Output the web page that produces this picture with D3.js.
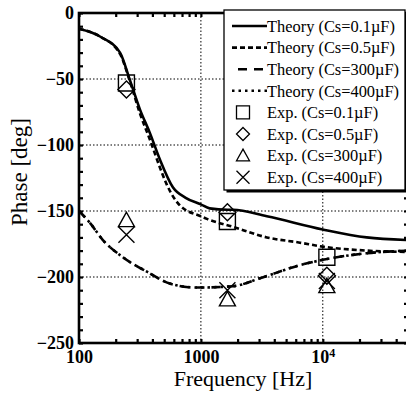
<!DOCTYPE html>
<html lang="en">
<head>
<meta charset="UTF-8">
<title>Phase vs frequency</title>
<script src="https://d3js.org/d3.v7.min.js"></script>
<style>
  body { margin: 0; background: #fff; }
  text { font-family: "Liberation Serif", "Times New Roman", serif; fill: #000; }
</style>
</head>
<body>
<div id="chart"></div>
<script>
// theory curves, frequency [Hz] and phase [deg]
var freq01  = [100, 150, 217, 262, 316, 382, 461, 589, 750, 1000, 1180, 1650, 1830, 3475, 10000, 22900, 50000];
var phase01 = [-12, -18, -30, -51, -73, -91, -111, -132, -140, -145, -148, -149, -149, -154, -164, -170, -172];

var freq05  = [100, 150, 217, 262, 316, 382, 461, 525, 676, 1000, 1120, 1830, 3475, 6500, 10000, 22900, 50000];
var phase05 = [-12, -18, -31, -52, -76, -96, -117, -130, -146, -154, -156, -162, -170, -174, -177, -180, -181];

var freq300  = [100, 123, 157, 229, 361, 557, 926, 1830, 3050, 6500, 10000, 22900, 50000];
var phase300 = [-150, -159, -172, -185, -196, -205, -208, -207, -201, -191, -187, -182, -180];

var freq400  = [100, 123, 157, 229, 361, 557, 926, 1830, 3050, 6500, 10000, 22900, 50000];
var phase400 = [-150, -159, -172, -185, -196, -205, -208, -207, -201, -191, -187, -182, -180];

// measured points
var expFreq = [245, 1650, 10800];
var exp01  = [-53, -158, -185];
var exp05  = [-58, -151, -199];
var exp300 = [-157, -217, -207];
var exp400 = [-168, -210, -203];

var xTicks = [100, 1000, 10000];
var yTicks = [0, -50, -100, -150, -200, -250];
var legendLabels = ["Theory (Cs=0.1\u00b5F)", "Theory (Cs=0.5\u00b5F)", "Theory (Cs=300\u00b5F)", "Theory (Cs=400\u00b5F)",
                    "Exp. (Cs=0.1\u00b5F)", "Exp. (Cs=0.5\u00b5F)", "Exp. (Cs=300\u00b5F)", "Exp. (Cs=400\u00b5F)"];

var W = 406, H = 394;
var pLeft = 79, pRight = 408, pTop = 13, pBottom = 343;

var svg = d3.select("#chart").append("svg")
  .attr("width", W).attr("height", H);

var x = d3.scaleLog().domain([100, 50000]).range([pLeft, pRight]);
var y = d3.scaleLinear().domain([-250, 0]).range([pBottom, pTop]);

// grid
var grid = svg.append("g").attr("stroke", "#000").attr("stroke-width", 1).attr("stroke-dasharray", "1.5,2");
grid.selectAll(".gy").data([-50, -100, -150, -200]).enter().append("line")
  .attr("x1", pLeft).attr("x2", pRight).attr("y1", d => y(d)).attr("y2", d => y(d));
grid.selectAll(".gx").data([1000, 10000]).enter().append("line")
  .attr("y1", pTop).attr("y2", pBottom).attr("x1", d => x(d)).attr("x2", d => x(d));

// minor ticks, all inward
var minorX = [];
[100, 1000, 10000].forEach(function(b) { for (var i = 2; i <= 9; i++) if (b * i <= 50000) minorX.push(b * i); });
var minorY = d3.range(-250, 1, 10);

function tickStyle(g) {
  g.select(".domain").remove();
  g.selectAll(".tick line").attr("stroke", "#000").attr("stroke-width", 2.2);
}
svg.append("g").attr("transform", "translate(0," + pBottom + ")")
  .call(d3.axisBottom(x).tickValues(minorX.concat(xTicks)).tickSize(-4).tickFormat("")).call(tickStyle);
svg.append("g").attr("transform", "translate(0," + pTop + ")")
  .call(d3.axisTop(x).tickValues(minorX.concat(xTicks)).tickSize(-4).tickFormat("")).call(tickStyle);
svg.append("g").attr("transform", "translate(" + pLeft + ",0)")
  .call(d3.axisLeft(y).tickValues(minorY).tickSize(-4).tickFormat("")).call(tickStyle);
svg.append("g").attr("transform", "translate(" + pRight + ",0)")
  .call(d3.axisRight(y).tickValues(minorY).tickSize(-4).tickFormat("")).call(tickStyle);

// tick labels
var yAx = svg.append("g").attr("transform", "translate(" + pLeft + ",0)")
  .call(d3.axisLeft(y).tickValues(yTicks).tickSize(0).tickPadding(5).tickFormat(d3.format("d")));
yAx.select(".domain").remove();
yAx.selectAll("text").attr("font-size", 18).attr("font-family", "Liberation Serif").attr("font-weight", "bold");

var xAx = svg.append("g").attr("transform", "translate(0," + pBottom + ")")
  .call(d3.axisBottom(x).tickValues(xTicks).tickSize(0).tickPadding(7)
    .tickFormat(d => d === 10000 ? "" : d));
xAx.select(".domain").remove();
xAx.selectAll("text").attr("font-size", 18).attr("font-family", "Liberation Serif").attr("font-weight", "bold");
xAx.selectAll(".tick").filter(d => d === 10000).select("text")
  .call(function(t) {
    t.append("tspan").text("10");
    t.append("tspan").attr("dy", "-0.45em").attr("font-size", 12).text("4");
  });

// frame
svg.append("rect").attr("x", pLeft).attr("y", pTop).attr("width", pRight - pLeft).attr("height", pBottom - pTop)
  .attr("fill", "none").attr("stroke", "#000").attr("stroke-width", 2.6);

// curves
var line = d3.line().x(d => x(d[0])).y(d => y(d[1])).curve(d3.curveMonotoneX);
var curves = [
  {f: freq01, p: phase01, dash: null},
  {f: freq05, p: phase05, dash: "5,3"},
  {f: freq300, p: phase300, dash: "9,7"},
  {f: freq400, p: phase400, dash: "2.5,4"}
];
var plot = svg.append("g");
curves.forEach(function(c) {
  plot.append("path").datum(d3.zip(c.f, c.p))
    .attr("d", line).attr("fill", "none").attr("stroke", "#000").attr("stroke-width", 2.6)
    .attr("stroke-dasharray", c.dash);
});

// marker shapes, r = half size
function marker(kind, r) {
  if (kind === 0) return "M" + -r + "," + -r + "H" + r + "V" + r + "H" + -r + "Z";
  if (kind === 1) return "M0," + -r + "L" + r + ",0L0," + r + "L" + -r + ",0Z";
  if (kind === 2) return "M0," + -r + "L" + r + "," + r * 0.8 + "H" + -r + "Z";
  return "M" + -r + "," + -r + "L" + r + "," + r + "M" + r + "," + -r + "L" + -r + "," + r;
}
var expSets = [exp01, exp05, exp300, exp400];
expSets.forEach(function(s, k) {
  plot.selectAll(".m" + k).data(d3.zip(expFreq, s)).enter().append("path")
    .attr("transform", d => "translate(" + x(d[0]) + "," + y(d[1]) + ")")
    .attr("d", marker(k, k === 1 ? 8.5 : 8)).attr("fill", "none").attr("stroke", "#000").attr("stroke-width", 1.4);
});

// legend
var lg = svg.append("g");
var lx0 = 224, ly0 = 10, lw = 181, lh = 180;
lg.append("rect").attr("x", lx0 + 2.5).attr("y", ly0 + 2.5).attr("width", lw).attr("height", lh).attr("fill", "#000");
lg.append("rect").attr("x", lx0).attr("y", ly0).attr("width", lw).attr("height", lh)
  .attr("fill", "#fff").attr("stroke", "#000").attr("stroke-width", 1.3);

var rowY = d3.range(legendLabels.length).map(i => 26 + i * 21.6);
legendLabels.forEach(function(lab, i) {
  var yy = rowY[i];
  if (i < 4) {
    var x1 = i === 2 ? 238 : 232;
    lg.append("line").attr("x1", x1).attr("x2", 267).attr("y1", yy).attr("y2", yy)
      .attr("stroke", "#000").attr("stroke-width", 2.6).attr("stroke-dasharray", curves[i].dash);
  } else {
    lg.append("path").attr("transform", "translate(243," + yy + ")")
      .attr("d", marker(i - 4, 6.5)).attr("fill", "none").attr("stroke", "#000").attr("stroke-width", 1.3);
  }
  lg.append("text").attr("x", 267).attr("y", yy).attr("dy", "0.35em")
    .attr("font-size", 16.4).text(lab);
});

// axis titles
svg.append("text").attr("x", 243).attr("y", 386).attr("text-anchor", "middle")
  .attr("font-size", 22).text("Frequency [Hz]");
svg.append("text").attr("transform", "translate(27,172) rotate(-90)").attr("text-anchor", "middle")
  .attr("font-size", 23).text("Phase [deg]");
</script>
</body>
</html>
